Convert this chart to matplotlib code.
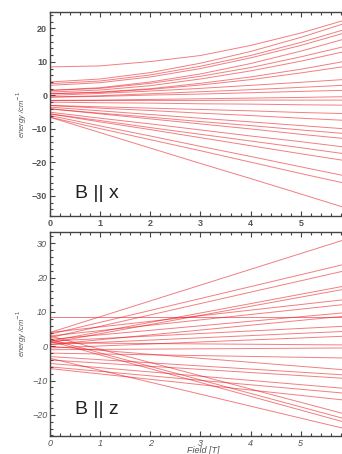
"""Zeeman level diagram, B || x and B || z."""

import matplotlib
matplotlib.use("Agg")
import matplotlib.pyplot as plt
import matplotlib.ticker as mticker

# field points where top-panel energies were read (T)
FIELD_X = [0, 1, 2, 3, 4, 5, 5.82]

# B || x energies (cm-1) at FIELD_X, one list per level
LEVELS_X = [
    [8.5, 8.8, 10.1, 11.9, 14.9, 18.6, 22.2],
    [4.0, 4.9, 6.8, 9.6, 13.1, 17.3, 21.2],
    [3.5, 4.3, 6.1, 8.7, 11.9, 15.8, 19.4],
    [3.0, 3.8, 5.5, 8.0, 11.2, 14.9, 18.4],
    [1.5, 2.3, 4.0, 6.4, 9.5, 13.2, 16.6],
    [1.5, 2.1, 3.6, 5.7, 8.3, 11.5, 14.4],
    [1.0, 1.6, 2.9, 4.9, 7.3, 10.2, 12.9],
    [0.5, 1.0, 2.0, 3.6, 5.5, 7.8, 10.0],
    [0.5, 0.9, 1.8, 3.1, 4.7, 6.7, 8.5],
    [0.0, 0.6, 1.3, 2.1, 3.0, 3.9, 4.7],
    [-0.5, -0.1, 0.5, 1.1, 1.7, 2.4, 3.0],
    [-0.5, -0.3, 0.1, 0.4, 0.8, 1.2, 1.5],
    [-1.5, -1.4, -1.2, -1.0, -0.8, -0.6, -0.4],
    [-1.5, -1.5, -1.5, -1.5, -1.4, -1.4, -1.4],
    [-2.0, -2.2, -2.3, -2.5, -2.6, -2.8, -2.9],
    [-3.0, -3.4, -3.8, -4.2, -4.6, -5.1, -5.4],
    [-3.0, -3.8, -4.5, -5.3, -6.0, -6.8, -7.4],
    [-3.5, -4.6, -5.7, -6.8, -7.9, -9.0, -9.9],
    [-4.0, -5.3, -6.5, -7.8, -9.0, -10.3, -11.3],
    [-4.0, -5.5, -7.0, -8.5, -10.0, -11.6, -12.8],
    [-5.0, -6.8, -8.5, -10.3, -12.1, -13.8, -15.3],
    [-5.5, -7.5, -9.6, -11.6, -13.6, -15.6, -17.3],
    [-5.5, -7.9, -10.2, -12.6, -15.0, -17.4, -19.3],
    [-6.0, -9.1, -12.1, -15.2, -18.2, -21.3, -23.8],
    [-6.5, -9.9, -13.2, -16.5, -19.9, -23.3, -26.0],
    [-6.5, -11.1, -15.7, -20.3, -24.8, -29.4, -33.2],
]

# B || z levels are straight lines: energy at 0 T and at 5.82 T
FIELD_Z = [0, 5.82]
LEVELS_Z = [
    [4.0, 30.8],
    [3.5, 23.7],
    [2.5, 21.8],
    [1.5, 17.4],
    [1.0, 16.5],
    [4.0, 13.5],
    [3.0, 12.1],
    [2.0, 9.7],
    [8.5, 8.5],
    [0.5, 8.7],
    [1.5, 5.8],
    [0.5, 4.3],
    [-0.5, 2.9],
    [1.0, 0.4],
    [-1.0, -0.5],
    [-2.0, -3.4],
    [0.0, -6.8],
    [-3.0, -8.3],
    [-4.0, -9.3],
    [-5.0, -12.2],
    [-6.0, -13.6],
    [-6.5, -15.6],
    [3.0, -19.5],
    [2.0, -20.9],
    [1.5, -21.9],
    [-3.5, -23.8],
]

FIELD_TICKS = [0, 1, 2, 3, 4, 5]

plt.rcParams.update({
    "font.family": ["Liberation Sans", "DejaVu Sans"],
    "font.size": 6,
})

LINE_COLOR = "#e8141a"
AXIS_COLOR = "#444444"
TEXT_COLOR = "#555555"

fig = plt.figure(figsize=(3.42, 4.54), dpi=100)
ax1 = fig.add_axes([0.146, 0.524, 0.880, 0.449])
ax2 = fig.add_axes([0.146, 0.040, 0.880, 0.449])


def style_axis(ax, italic):
    style = "italic" if italic else "normal"
    ax.set_xlim(0, 6)
    ax.set_xticks(FIELD_TICKS)
    ax.xaxis.set_minor_locator(mticker.MultipleLocator(0.2))
    ax.yaxis.set_major_locator(mticker.MultipleLocator(10))
    ax.yaxis.set_minor_locator(mticker.MultipleLocator(2))
    ax.tick_params(which="both", direction="in", top=True, right=False,
                   colors=AXIS_COLOR, labelcolor=TEXT_COLOR, width=0.8)
    ax.tick_params(which="major", length=3.5, labelsize=6.5, pad=2)
    ax.tick_params(which="minor", length=2)
    for lab in ax.get_xticklabels() + ax.get_yticklabels():
        lab.set_fontstyle(style)
        lab.set_fontweight("bold" if not italic else "normal")
    for sp in ax.spines.values():
        sp.set_color(AXIS_COLOR)
        sp.set_linewidth(1.0)
    ax.set_ylabel("energy /cm$^{-1}$", fontsize=5.5, style="italic",
                  color=TEXT_COLOR, labelpad=2)


for levels in LEVELS_X:
    ax1.plot(FIELD_X, levels, color=LINE_COLOR, lw=0.7, alpha=0.55)
ax1.set_ylim(-36, 24.8)
style_axis(ax1, italic=False)
ax1.text(0.5, -29.2, "B || x", fontsize=14, color="#222222", va="center")

for levels in LEVELS_Z:
    ax2.plot(FIELD_Z, levels, color=LINE_COLOR, lw=0.7, alpha=0.55)
ax2.set_ylim(-26.1, 33.3)
style_axis(ax2, italic=True)
ax2.set_xlabel("Field [T]", fontsize=6.5, style="italic", color=TEXT_COLOR)
ax2.xaxis.set_label_coords(0.51, -0.052)
ax2.xaxis.label.set_va("top")
ax2.text(0.5, -18.5, "B || z", fontsize=14, color="#222222", va="center")

fig.savefig("out.png", dpi=100)
plt.close(fig)
